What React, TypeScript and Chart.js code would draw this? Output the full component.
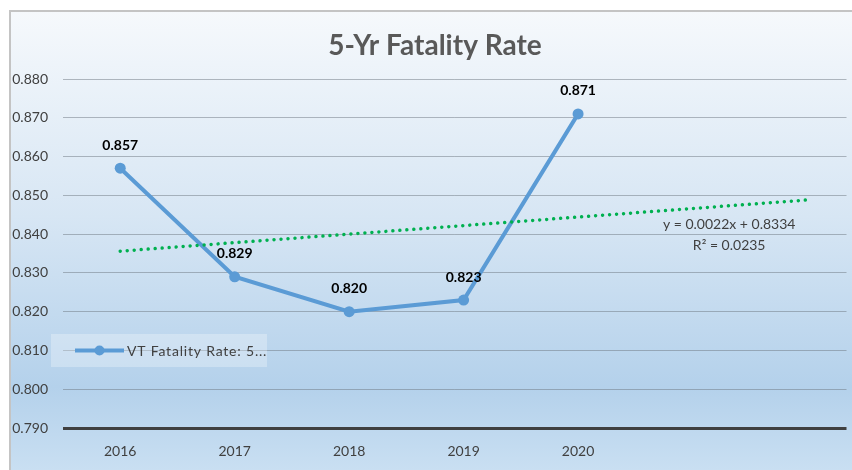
import React, { useEffect, useRef } from "react";
import { Chart, registerables } from "chart.js";

Chart.register(...registerables);

const TITLE = "5-Yr Fatality Rate";
const YEARS = ["2016", "2017", "2018", "2019", "2020"];
const RATES = [0.857, 0.829, 0.82, 0.823, 0.871];
const SERIES_NAME = "VT Fatality Rate: 5...";
const Y_MIN = 0.79;
const Y_MAX = 0.88;
const TREND_FORWARD = 2;

const FONT = "Lato, 'Open Sans', sans-serif";

function regression(ys: number[]) {
  const n = ys.length;
  const xs = ys.map((_, i) => i + 1);
  const mx = xs.reduce((a, b) => a + b, 0) / n;
  const my = ys.reduce((a, b) => a + b, 0) / n;
  let sxy = 0, sxx = 0, syy = 0;
  for (let i = 0; i < n; i++) {
    sxy += (xs[i] - mx) * (ys[i] - my);
    sxx += (xs[i] - mx) ** 2;
    syy += (ys[i] - my) ** 2;
  }
  const slope = sxy / sxx;
  const intercept = my - slope * mx;
  const r2 = (sxy * sxy) / (sxx * syy);
  return { slope, intercept, r2 };
}

export default function App() {
  const ref = useRef<HTMLCanvasElement | null>(null);

  useEffect(() => {
    if (!ref.current) return;
    const { slope, intercept, r2 } = regression(RATES);
    const trendEnd = RATES.length + TREND_FORWARD;
    const trendData = [
      { x: 1, y: intercept + slope * 1 },
      { x: trendEnd, y: intercept + slope * trendEnd },
    ];

    const bgPlugin = {
      id: "bg",
      beforeDraw(chart: any) {
        const { ctx, width, height } = chart;
        ctx.save();
        ctx.fillStyle = "#ffffff";
        ctx.fillRect(0, 0, width, height);
        const g = ctx.createLinearGradient(0, 10, 0, height);
        g.addColorStop(0, "#f6f9fc");
        g.addColorStop(0.45, "#d7e6f4");
        g.addColorStop(0.82, "#b4d1eb");
        g.addColorStop(1, "#c9dff2");
        ctx.fillStyle = g;
        ctx.fillRect(10, 11, width - 10, height - 11);
        ctx.strokeStyle = "#c4c4c4";
        ctx.lineWidth = 2;
        ctx.beginPath();
        ctx.moveTo(10, height);
        ctx.lineTo(10, 11);
        ctx.lineTo(width, 11);
        ctx.stroke();
        // title
        ctx.fillStyle = "#595959";
        ctx.font = `bold 28px ${FONT}`;
        ctx.textAlign = "center";
        ctx.textBaseline = "middle";
        ctx.fillText(TITLE, 435, 46);
        ctx.restore();
      },
    };

    const labelPlugin = {
      id: "labels",
      afterDatasetsDraw(chart: any) {
        const { ctx, scales } = chart;
        const meta = chart.getDatasetMeta(1);
        ctx.save();
        ctx.fillStyle = "#000000";
        ctx.font = `bold 14px ${FONT}`;
        ctx.textAlign = "center";
        ctx.textBaseline = "middle";
        meta.data.forEach((pt: any, i: number) => {
          ctx.fillText(RATES[i].toFixed(3), pt.x, pt.y - 23);
        });
        // trendline equation
        ctx.fillStyle = "#404040";
        ctx.font = `14px ${FONT}`;
        const tx = scales.x.getPixelForValue(trendEnd - 0.68);
        const ty = scales.y.getPixelForValue(intercept + slope * trendEnd) + 24;
        ctx.fillText(
          `y = ${slope.toFixed(4)}x + ${intercept.toFixed(4)}`,
          tx,
          ty
        );
        ctx.fillText(`R² = ${r2.toFixed(4)}`, tx, ty + 21);

        // legend
        const lx = 51, ly = 334, lw = 216, lh = 33;
        ctx.fillStyle = "rgba(255,255,255,0.28)";
        ctx.fillRect(lx, ly, lw, lh);
        const cy = ly + lh / 2;
        ctx.strokeStyle = "#5b9bd5";
        ctx.lineWidth = 4;
        ctx.beginPath();
        ctx.moveTo(75, cy);
        ctx.lineTo(124, cy);
        ctx.stroke();
        ctx.fillStyle = "#5b9bd5";
        ctx.beginPath();
        ctx.arc(99.5, cy, 5, 0, Math.PI * 2);
        ctx.fill();
        ctx.fillStyle = "#404040";
        ctx.font = `14px ${FONT}`;
        ctx.textAlign = "left";
        (ctx as any).letterSpacing = "0.8px";
        ctx.fillText(SERIES_NAME, 127, cy + 1);
        ctx.restore();
      },
    };

    const chart = new Chart(ref.current, {
      type: "line",
      data: {
        datasets: [
          {
            label: "Linear (trend)",
            data: trendData,
            borderColor: "#00b050",
            borderWidth: 3.5,
            borderDash: [0.01, 7],
            borderCapStyle: "round",
            pointRadius: 0,
            fill: false,
            order: 0,
          },
          {
            label: SERIES_NAME,
            data: RATES.map((v, i) => ({ x: i + 1, y: v })),
            borderColor: "#5b9bd5",
            backgroundColor: "#5b9bd5",
            borderWidth: 4,
            pointRadius: 5.5,
            pointBackgroundColor: "#5b9bd5",
            pointBorderColor: "#5b9bd5",
            pointBorderWidth: 0,
            fill: false,
            order: 1,
          },
        ],
      },
      options: {
        responsive: false,
        animation: false,
        layout: { padding: { top: 79, right: 0, bottom: 0, left: 0 } },
        plugins: {
          legend: { display: false },
          title: { display: false },
          tooltip: { enabled: false },
        },
        scales: {
          x: {
            type: "linear",
            min: 0.5,
            max: 7.345,
            grid: { display: false },
            border: { display: false },
            afterBuildTicks(scale: any) {
              scale.ticks = YEARS.map((_, i) => ({ value: i + 1 }));
            },
            afterFit(scale: any) {
              scale.height = 42;
            },
            ticks: {
              autoSkip: false,
              maxRotation: 0,
              padding: 7,
              color: "#404040",
              font: { family: FONT, size: 14 },
              callback: (v: any) => YEARS[Math.round(Number(v)) - 1] ?? "",
            },
          },
          y: {
            min: Y_MIN,
            max: Y_MAX,
            border: { display: false },
            grid: {
              drawTicks: false,
              color: (c: any) =>
                Math.abs(c.tick.value - Y_MIN) < 1e-6 ? "#404040" : "rgba(110,120,130,0.5)",
              lineWidth: (c: any) => (Math.abs(c.tick.value - Y_MIN) < 1e-6 ? 3 : 1),
            },
            afterFit(scale: any) {
              scale.width = 63;
            },
            ticks: {
              stepSize: 0.01,
              padding: 15,
              color: "#404040",
              font: { family: FONT, size: 14 },
              callback: (v: any) => Number(v).toFixed(3),
            },
          },
        },
      },
      plugins: [bgPlugin, labelPlugin],
    } as any);

    return () => chart.destroy();
  }, []);

  return (
    <div
      style={{
        position: "absolute",
        left: 0,
        top: 0,
        width: 852,
        height: 470,
        overflow: "hidden",
      }}
    >
      <canvas
        ref={ref}
        width={852}
        height={470}
        style={{ display: "block", width: 852, height: 470 }}
      />
    </div>
  );
}
